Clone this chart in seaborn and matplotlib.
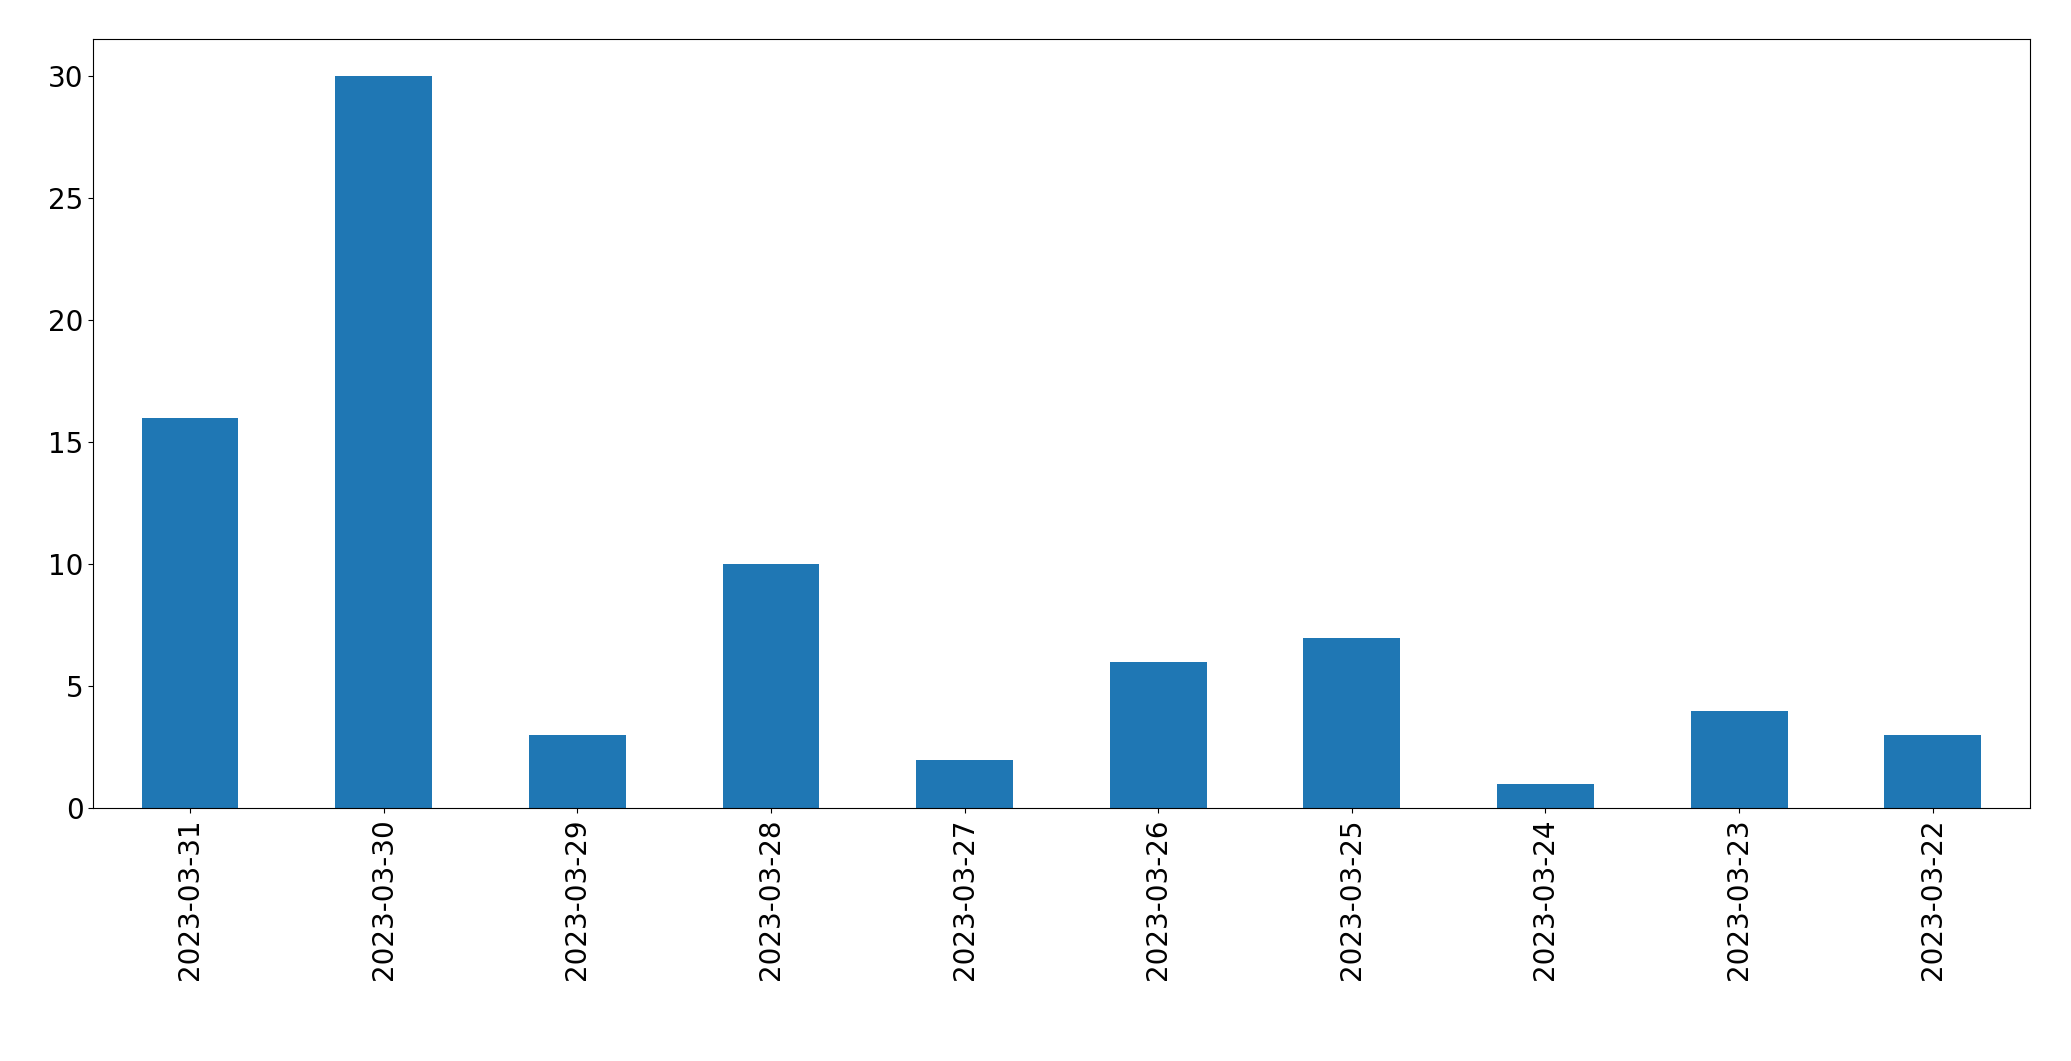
import matplotlib
matplotlib.use("Agg")
import matplotlib.pyplot as plt
import seaborn as sns
import pandas as pd

dates = ["2023-03-31", "2023-03-30", "2023-03-29", "2023-03-28", "2023-03-27",
         "2023-03-26", "2023-03-25", "2023-03-24", "2023-03-23", "2023-03-22"]
counts = [16, 30, 3, 10, 2, 6, 7, 1, 4, 3]

df = pd.DataFrame({"date": dates, "count": counts})

fig, ax = plt.subplots(figsize=(20.71, 10.61), dpi=100)
fig.subplots_adjust(left=0.045, right=0.98, top=0.963, bottom=0.238)

sns.barplot(data=df, x="date", y="count", order=dates, color="#1f77b4",
            saturation=1, width=0.5, ax=ax)

ax.set_xlim(-0.5, 9.5)
ax.set_ylim(0, 31.5)
ax.set_xlabel("")
ax.set_ylabel("")
ax.tick_params(axis="both", labelsize=20)
ax.tick_params(axis="x", labelrotation=90)

plt.savefig("out.png", dpi=100)
plt.close()
